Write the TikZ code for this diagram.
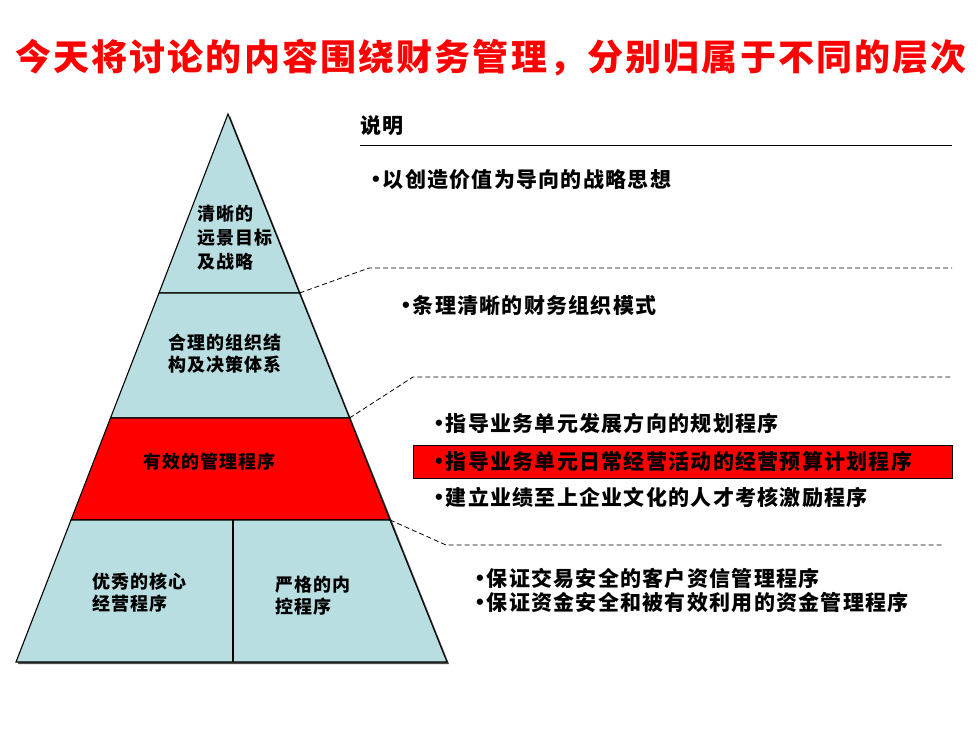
\documentclass[tikz,border=0pt]{standalone}
\usepackage{fontspec}
\setmainfont{Noto Sans CJK SC}[LetterSpace=6]
\newfontfamily\bulfont{Liberation Sans}
\definecolor{pyrblue}{RGB}{185,222,225}
\newcommand{\bul}{{\bulfont\fontsize{22}{22}\selectfont\raisebox{1pt}{•}}\hspace{3pt}}

\begin{document}
\begin{tikzpicture}[x=1pt,y=-1pt,
    tier/.style={draw=black,line width=1.1pt,line join=miter},
    lbl/.style={anchor=west,inner sep=0pt,align=left,font=\fontsize{18}{22}\selectfont\bfseries},
    item/.style={anchor=west,inner sep=0pt,font=\fontsize{21}{24}\selectfont\bfseries},
    lead/.style={dash pattern=on 5pt off 3pt,line width=0.8pt}]
        \useasboundingbox (0,0) rectangle (980,735);
        \node[text=red,font=\fontsize{36}{40}\selectfont\bfseries](title)at(491,58){今天将讨论的内容围绕财务管理，分别归属于不同的层次};

        \coordinate(apex)at(228,114);
        \coordinate(bl)at(16,662);
        \coordinate(br)at(447,662);
        \coordinate(l1)at(159,293); \coordinate(r1)at(299.5,293);
        \coordinate(l2)at(110.5,418); \coordinate(r2)at(349.5,418);
        \coordinate(l3)at(71,520); \coordinate(r3)at(390,520);
        \coordinate(m3)at(233,520); \coordinate(m4)at(233,662);

        \fill[black!70]([shift={(2,2)}]apex)--([shift={(2,2)}]br)--([shift={(2,2)}]bl)--cycle;
        \filldraw[tier,fill=pyrblue](apex)--(r1)--(l1)--cycle;
        \filldraw[tier,fill=pyrblue](l1)--(r1)--(r2)--(l2)--cycle;
        \filldraw[tier,fill=red](l2)--(r2)--(r3)--(l3)--cycle;
        \filldraw[tier,fill=pyrblue](l3)--(r3)--(br)--(bl)--cycle;
        \draw[tier](m3)--(m4);

        \node[lbl,font=\fontsize{18}{24}\selectfont\bfseries](vision)at(197,238){清晰的\\远景目标\\及战略};
        \node[lbl](struct)at(168,354){合理的组织结\\构及决策体系};
        \node[lbl](mgmt)at(143,462){有效的管理程序};
        \node[lbl](core)at(92,593){优秀的核心\\经营程序};
        \node[lbl](ctrl)at(275,596){严格的内\\控程序};

        \node[item](head)at(360,126){说明};
        \coordinate(rulea)at(360,146); \coordinate(ruleb)at(952,146);
        \draw[line width=1pt](rulea)--(ruleb);

        \coordinate(d1a)at(369,268); \coordinate(d1b)at(952,268);
        \coordinate(d2a)at(413,377); \coordinate(d2b)at(952,377);
        \coordinate(d3a)at(446,545); \coordinate(d3b)at(942,545);
        \draw[lead](r1)--(d1a)--(d1b);
        \draw[lead](r2)--(d2a)--(d2b);
        \draw[lead](r3)--(d3a)--(d3b);

        \node[draw=black,fill=red,line width=0.8pt,inner sep=0pt,anchor=north west,minimum width=539pt,minimum height=33pt](hlbox)at(413,445){};

        \node[item](i1)at(372,180){\bul 以创造价值为导向的战略思想};
        \node[item](i2)at(402,305){\bul 条理清晰的财务组织模式};
        \node[item](i3)at(435,423){\bul 指导业务单元发展方向的规划程序};
        \node[item](i4)at(435,461){\bul 指导业务单元日常经营活动的经营预算计划程序};
        \node[item](i5)at(435,497){\bul 建立业绩至上企业文化的人才考核激励程序};
        \node[item](i6)at(476,578){\bul 保证交易安全的客户资信管理程序};
        \node[item](i7)at(476,602){\bul 保证资金安全和被有效利用的资金管理程序};
    \end{tikzpicture}
\end{document}
